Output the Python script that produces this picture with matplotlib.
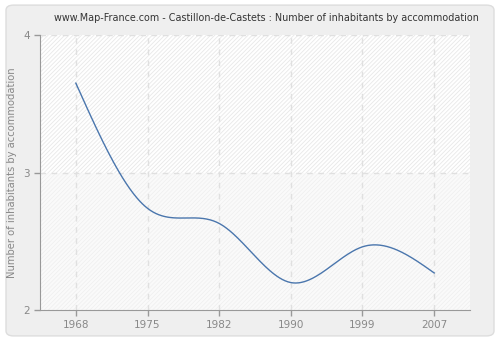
import numpy as np
import matplotlib
matplotlib.use("Agg")
import matplotlib.pyplot as plt
from matplotlib.patches import FancyBboxPatch

years = ["1968", "1975", "1982", "1990", "1999", "2007"]
values = [3.65, 2.74, 2.63, 2.20, 2.46, 2.27]
yticks = [2, 3, 4]
title = "www.Map-France.com - Castillon-de-Castets : Number of inhabitants by accommodation"
ylabel = "Number of inhabitants by accommodation"


def natural_spline(x, y, xs):
    x = np.asarray(x, float); y = np.asarray(y, float)
    n = len(x)
    h = np.diff(x)
    A = np.zeros((n, n)); b = np.zeros(n)
    A[0, 0] = 1; A[-1, -1] = 1
    for i in range(1, n - 1):
        A[i, i - 1] = h[i - 1]
        A[i, i] = 2 * (h[i - 1] + h[i])
        A[i, i + 1] = h[i]
        b[i] = 3 * ((y[i + 1] - y[i]) / h[i] - (y[i] - y[i - 1]) / h[i - 1])
    c = np.linalg.solve(A, b)
    out = np.empty_like(xs)
    for k, t in enumerate(xs):
        i = min(max(np.searchsorted(x, t) - 1, 0), n - 2)
        bi = (y[i + 1] - y[i]) / h[i] - h[i] * (2 * c[i] + c[i + 1]) / 3
        di = (c[i + 1] - c[i]) / (3 * h[i])
        dt = t - x[i]
        out[k] = y[i] + bi * dt + c[i] * dt ** 2 + di * dt ** 3
    return out


plt.rcParams['hatch.linewidth'] = 0.6
plt.rcParams['font.family'] = ['DejaVu Sans']
fig = plt.figure(figsize=(5, 3.4), dpi=100)
fig.patch.set_facecolor("white")
bg = FancyBboxPatch((0.012, 0.012), 0.976, 0.973, boxstyle="round,pad=0,rounding_size=0.015",
                    transform=fig.transFigure, facecolor="#efefef", edgecolor="#dddddd", lw=1,
                    zorder=-10)
fig.patches.append(bg)

ax = fig.add_axes([0.08, 0.088, 0.86, 0.809])
ax.set_zorder(1)
ax.set_facecolor("white")
xpos = np.arange(len(years))
ax.axhspan(3, 4, facecolor="white", edgecolor="#e8e8e8", hatch="////////", lw=0, zorder=0)
ax.axhspan(2, 3, facecolor="#fafafa", edgecolor="#f0f0f0", hatch="////////", lw=0, zorder=0)

for xp in xpos:
    ax.axvline(xp, color="#e0e0e0", lw=1, ls=(0, (4, 4)), zorder=1)
for yv in yticks[1:]:
    ax.axhline(yv, color="#e0e0e0", lw=1, ls=(0, (4, 4)), zorder=1)

xs = np.linspace(0, len(years) - 1, 400)
ax.plot(xs, natural_spline(xpos, values, xs), color="#4a76ad", lw=1.0, zorder=3)

ax.set_xlim(-0.5, len(years) - 0.5)
ax.set_ylim(2, 4)
ax.set_xticks(xpos)
ax.set_xticklabels(years)
ax.set_yticks(yticks)
ax.tick_params(colors="#999999", labelcolor="#888888", labelsize=7.5, length=4, width=1)
for s in ["top", "right"]:
    ax.spines[s].set_visible(False)
for s in ["left", "bottom"]:
    ax.spines[s].set_color("#999999")
ax.set_ylabel(ylabel, color="#888888", fontsize=7.2)
ax.yaxis.set_label_coords(-0.053, 0.5)
fig.text(0.532, 0.932, title, ha="center", va="bottom", fontsize=6.9, color="#333333")

fig.savefig("out.png", dpi=100, facecolor=fig.get_facecolor())
